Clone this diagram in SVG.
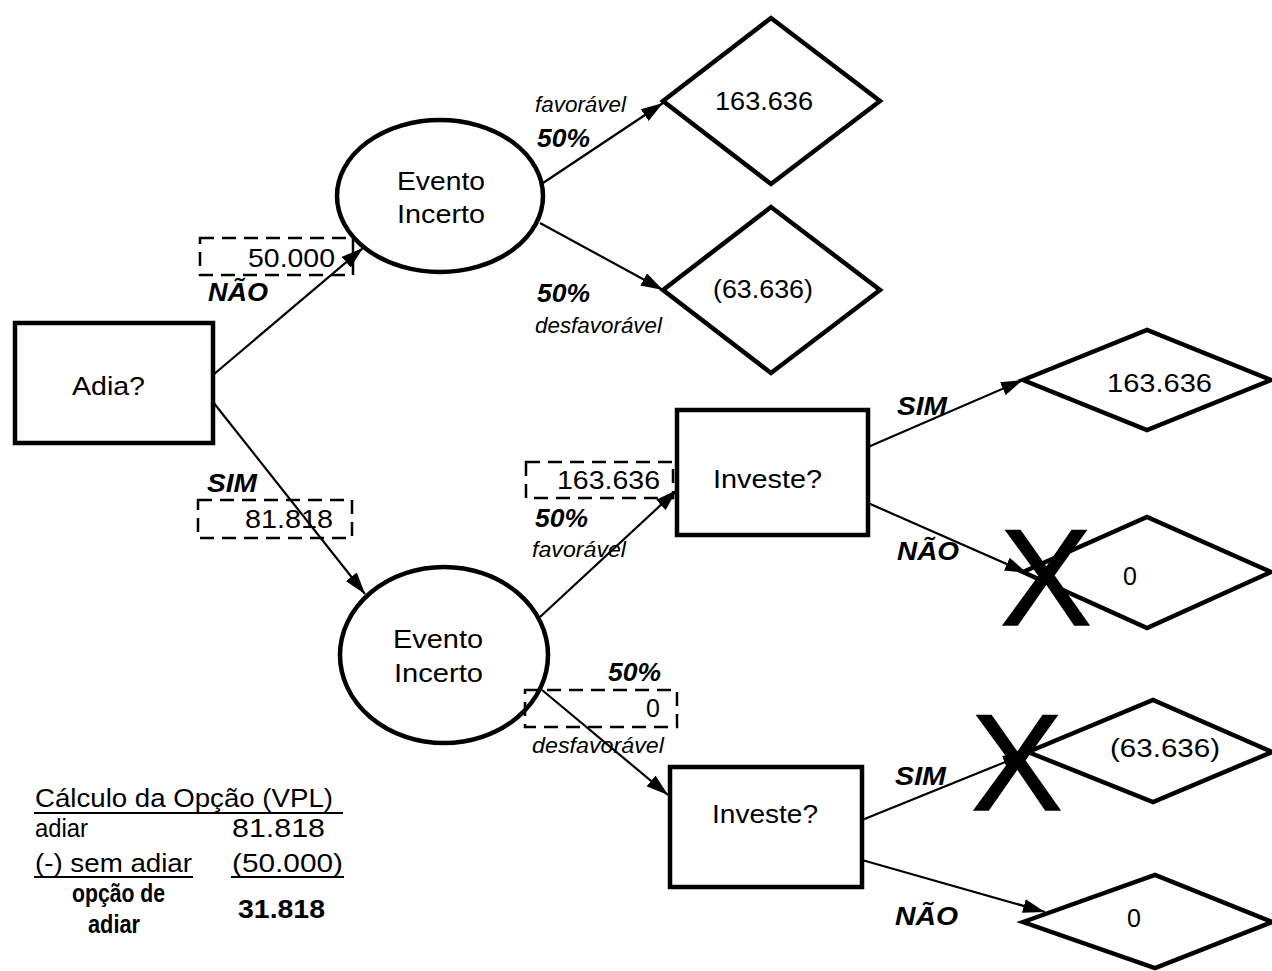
<svg xmlns="http://www.w3.org/2000/svg" width="1272" height="971" viewBox="0 0 1272 971">
<style>
.node{fill:#fff;stroke:#000;stroke-width:4.5}
.conn{stroke:#000;stroke-width:2.2;fill:none}
.dash{fill:none;stroke:#000;stroke-width:2.5;stroke-dasharray:14 8}
.t{font-family:"Liberation Sans",Arial,sans-serif;font-size:25px;fill:#000}
.bi{font-family:"Liberation Sans",Arial,sans-serif;font-size:25px;font-weight:bold;font-style:italic;fill:#000}
.it{font-family:"Liberation Sans",Arial,sans-serif;font-size:22px;font-style:italic;fill:#000}
.b{font-family:"Liberation Sans",Arial,sans-serif;font-size:26px;font-weight:bold;fill:#000}
.x{font-family:"Liberation Sans",Arial,sans-serif;font-size:137px;fill:#000;stroke:#000;stroke-width:1.5}
.ul{stroke:#000;stroke-width:2}
</style>
<defs>
<marker id="arr" viewBox="0 0 22 14" refX="22" refY="7" markerWidth="22" markerHeight="14" markerUnits="userSpaceOnUse" orient="auto">
<path d="M0,0 L22,7 L0,14 z" fill="#000"/>
</marker>
</defs>

<g id="connectors">
<line class="conn" x1="213" y1="375" x2="363" y2="248" marker-end="url(#arr)"/>
<line class="conn" x1="213" y1="402" x2="365" y2="594" marker-end="url(#arr)"/>
<line class="conn" x1="543" y1="183" x2="663" y2="103" marker-end="url(#arr)"/>
<line class="conn" x1="540" y1="223" x2="663" y2="290" marker-end="url(#arr)"/>
<line class="conn" x1="540" y1="617" x2="677" y2="490" marker-end="url(#arr)"/>
<line class="conn" x1="542" y1="690" x2="668" y2="795" marker-end="url(#arr)"/>
<line class="conn" x1="868" y1="447" x2="1023" y2="380" marker-end="url(#arr)"/>
<line class="conn" x1="868" y1="503" x2="1027" y2="573" marker-end="url(#arr)"/>
<line class="conn" x1="862" y1="820" x2="1025" y2="754" marker-end="url(#arr)"/>
<line class="conn" x1="862" y1="860" x2="1045" y2="912" marker-end="url(#arr)"/>
</g>

<g id="adia">
<rect class="node" x="15" y="323" width="198" height="120"/>
<text class="t" x="72" y="395" textLength="73" lengthAdjust="spacingAndGlyphs">Adia?</text>
</g>

<g id="evento1">
<ellipse class="node" cx="440" cy="196" rx="103" ry="76"/>
<text class="t" x="397" y="190" textLength="88" lengthAdjust="spacingAndGlyphs">Evento</text>
<text class="t" x="397" y="223" textLength="88" lengthAdjust="spacingAndGlyphs">Incerto</text>
</g>

<g id="evento2">
<ellipse class="node" cx="444" cy="655" rx="104" ry="88"/>
<text class="t" x="393" y="648" textLength="90" lengthAdjust="spacingAndGlyphs">Evento</text>
<text class="t" x="394" y="682" textLength="89" lengthAdjust="spacingAndGlyphs">Incerto</text>
</g>

<g id="res1">
<polygon class="node" points="663,101 771,18 880,101 771,184"/>
<text class="t" x="715" y="110" textLength="98" lengthAdjust="spacingAndGlyphs">163.636</text>
</g>

<g id="res2">
<polygon class="node" points="663,290 771,207 880,290 771,373"/>
<text class="t" x="713" y="298" textLength="100" lengthAdjust="spacingAndGlyphs">(63.636)</text>
</g>

<g id="investe1">
<rect class="node" x="677" y="410" width="191" height="125"/>
<text class="t" x="713" y="488" textLength="109" lengthAdjust="spacingAndGlyphs">Investe?</text>
</g>

<g id="investe2">
<rect class="node" x="670" y="767" width="192" height="120"/>
<text class="t" x="712" y="823" textLength="106" lengthAdjust="spacingAndGlyphs">Investe?</text>
</g>

<g id="res3">
<polygon class="node" points="1023,380 1147,330 1271,380 1147,430"/>
<text class="t" x="1107" y="392" textLength="105" lengthAdjust="spacingAndGlyphs">163.636</text>
</g>

<g id="res4">
<polygon class="node" points="1023,572 1147,517 1271,572 1147,628"/>
<text class="t" x="1123" y="585">0</text>
</g>

<g id="res5">
<polygon class="node" points="1028,752 1153,700 1272,752 1153,802"/>
<text class="t" x="1110" y="757" textLength="110" lengthAdjust="spacingAndGlyphs">(63.636)</text>
</g>

<g id="res6">
<polygon class="node" points="1023,922 1155,875 1272,922 1155,968"/>
<text class="t" x="1127" y="927">0</text>
</g>

<g id="labels">
<rect class="dash" x="200" y="238" width="153" height="37"/>
<text class="t" x="248" y="267" textLength="87" lengthAdjust="spacingAndGlyphs">50.000</text>
<text class="bi" x="208" y="301" textLength="60" lengthAdjust="spacingAndGlyphs">NÃO</text>

<text class="bi" x="207" y="492" textLength="50" lengthAdjust="spacingAndGlyphs">SIM</text>
<rect class="dash" x="198" y="500" width="154" height="38"/>
<text class="t" x="245" y="528" textLength="88" lengthAdjust="spacingAndGlyphs">81.818</text>

<text class="it" x="535" y="112" textLength="91" lengthAdjust="spacingAndGlyphs">favorável</text>
<text class="bi" x="537" y="147" textLength="53" lengthAdjust="spacingAndGlyphs">50%</text>
<text class="bi" x="537" y="302" textLength="53" lengthAdjust="spacingAndGlyphs">50%</text>
<text class="it" x="535" y="333" textLength="127" lengthAdjust="spacingAndGlyphs">desfavorável</text>

<rect class="dash" x="526" y="462" width="147" height="36"/>
<text class="t" x="557" y="489" textLength="103" lengthAdjust="spacingAndGlyphs">163.636</text>
<text class="bi" x="535" y="527" textLength="53" lengthAdjust="spacingAndGlyphs">50%</text>
<text class="it" x="532" y="557" textLength="94" lengthAdjust="spacingAndGlyphs">favorável</text>

<text class="bi" x="608" y="681" textLength="53" lengthAdjust="spacingAndGlyphs">50%</text>
<rect class="dash" x="525" y="690" width="152" height="37"/>
<text class="t" x="646" y="717">0</text>
<text class="it" x="532" y="753" textLength="132" lengthAdjust="spacingAndGlyphs">desfavorável</text>

<text class="bi" x="897" y="415" textLength="50" lengthAdjust="spacingAndGlyphs">SIM</text>
<text class="bi" x="897" y="560" textLength="62" lengthAdjust="spacingAndGlyphs">NÃO</text>
<text class="bi" x="895" y="785" textLength="51" lengthAdjust="spacingAndGlyphs">SIM</text>
<text class="bi" x="895" y="925" textLength="63" lengthAdjust="spacingAndGlyphs">NÃO</text>

<text class="x" x="1046" y="625" text-anchor="middle">X</text>
<text class="x" x="1017" y="810" text-anchor="middle">X</text>
</g>

<g id="calculo">
<text class="t" x="35" y="807" textLength="298" lengthAdjust="spacingAndGlyphs">Cálculo da Opção (VPL)</text>
<line class="ul" x1="34" y1="813" x2="343" y2="813"/>
<text class="t" x="35" y="837" textLength="53" lengthAdjust="spacingAndGlyphs">adiar</text>
<text class="t" x="232" y="837" textLength="93" lengthAdjust="spacingAndGlyphs">81.818</text>
<text class="t" x="35" y="872" textLength="157" lengthAdjust="spacingAndGlyphs">(-) sem adiar</text>
<line class="ul" x1="34" y1="877" x2="193" y2="877"/>
<text class="t" x="232" y="872" textLength="111" lengthAdjust="spacingAndGlyphs">(50.000)</text>
<line class="ul" x1="231" y1="877" x2="344" y2="877"/>
<text class="b" x="72" y="902" textLength="93" lengthAdjust="spacingAndGlyphs">opção de</text>
<text class="b" x="88" y="933" textLength="52" lengthAdjust="spacingAndGlyphs">adiar</text>
<text class="b" x="238" y="918" textLength="87" lengthAdjust="spacingAndGlyphs">31.818</text>
</g>
</svg>
